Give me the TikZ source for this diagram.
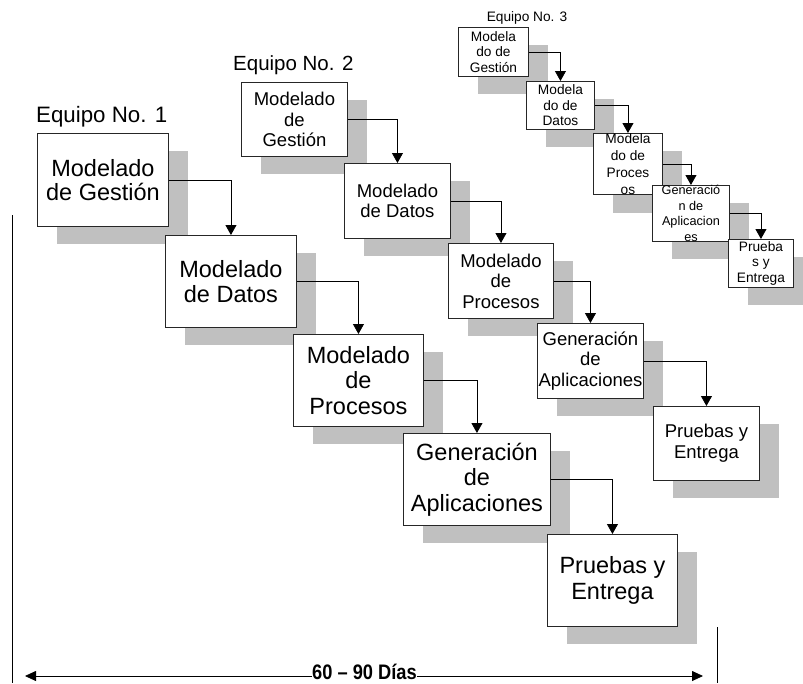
\documentclass[tikz,border=0pt]{standalone}
\usepackage{fontspec}
\setmainfont{Liberation Sans}
\usetikzlibrary{arrows.meta,shadows}
\definecolor{shadowgray}{RGB}{192,192,192}
\begin{document}
\begin{tikzpicture}[x=1pt,y=-1pt,
  box/.style={draw=black!85, line width=0.9pt, fill=white, align=center, inner sep=0pt,
    anchor=north west,
    drop shadow={shadow xshift=20pt, shadow yshift=-18pt, fill=shadowgray, draw=none, opacity=1}},
  tA/.style={font=\fontsize{23.5}{25.5}\selectfont},
  tB/.style={font=\fontsize{18.5}{20.5}\selectfont},
  tC/.style={font=\fontsize{13.7}{15.5}\selectfont},
  lbl/.style={inner sep=0pt},
  conn/.style={line width=0.8pt, -{Triangle[length=10pt,width=11pt]}},
  dim/.style={line width=0.8pt},
  dimtip/.style={line width=0.8pt, -{Triangle[length=11pt,width=10pt]}}]
\useasboundingbox (0,0) rectangle (803,683);

% Team 1
\node[lbl, anchor=west, font=\fontsize{22.3}{24}\selectfont] (L1) at (36,117) {Equipo No. 1};
\node[box, minimum width=131pt, minimum height=93pt, font=\fontsize{23.5}{23.5}\selectfont] (a1) at (37,133) {Modelado\\de Gestión};
\node[box, tA, minimum width=131pt, minimum height=92pt] (a2) at (165,235) {Modelado\\de Datos};
\node[box, tA, minimum width=130pt, minimum height=92pt] (a3) at (293,334) {Modelado\\de\\Procesos};
\node[box, tA, minimum width=147pt, minimum height=92pt] (a4) at (403,433) {Generación\\de\\Aplicaciones};
\node[box, tA, minimum width=130pt, minimum height=92pt] (a5) at (547,534) {Pruebas y\\Entrega};

% Team 2
\node[lbl, anchor=west, font=\fontsize{20.5}{22}\selectfont] (L2) at (233,65) {Equipo No. 2};
\node[box, tB, minimum width=106pt, minimum height=74pt] (b1) at (241,82) {Modelado\\de\\Gestión};
\node[box, tB, minimum width=106pt, minimum height=75pt] (b2) at (344,163) {Modelado\\de Datos};
\node[box, tB, minimum width=105pt, minimum height=75pt] (b3) at (448,243) {Modelado\\de\\Procesos};
\node[box, tB, minimum width=106pt, minimum height=75pt] (b4) at (537,323) {Generación\\de\\Aplicaciones};
\node[box, tB, minimum width=106pt, minimum height=74pt] (b5) at (653,406) {Pruebas y\\Entrega};

% Team 3
\node[lbl, font=\fontsize{13.7}{15}\selectfont] (L3) at (527,18) {Equipo No. 3};
\node[box, tC, minimum width=70pt, minimum height=49pt] (c1) at (458,27) {Modela\\do de\\Gestión};
\node[box, tC, minimum width=68pt, minimum height=48pt] (c2) at (526,81) {Modela\\do de\\Datos};
\node[box, minimum width=69pt, minimum height=49pt, font=\fontsize{13.7}{17}\selectfont] (c3) at (593,133) {Modela\\do de\\Proces\\os};
\node[box, minimum width=77pt, minimum height=48pt, font=\fontsize{12.7}{15.5}\selectfont] (c4) at (652,185) {Generació\\n de\\Aplicacion\\es};
\node[box, tC, minimum width=65pt, minimum height=48pt] (c5) at (728,239) {Prueba\\s y\\Entrega};

% Connectors
\draw[conn] (a1.east) -| (a2.north);
\draw[conn] (a2.east) -| (a3.north);
\draw[conn] (a3.east) -| (a4.north);
\draw[conn] (a4.east) -| (a5.north);
\draw[conn] (b1.east) -| (b2.north);
\draw[conn] (b2.east) -| (b3.north);
\draw[conn] (b3.east) -| (b4.north);
\draw[conn] (b4.east) -| (b5.north);
\draw[conn] (c1.east) -| (c2.north);
\draw[conn] (c2.east) -| (c3.north);
\draw[conn] (c3.east) -| (c4.north);
\draw[conn] (c4.east) -| (c5.north);

% Time span
\coordinate (vl1) at (12,215);
\coordinate (vl2) at (12,683);
\coordinate (vr1) at (717,627);
\coordinate (vr2) at (717,683);
\draw[dim] (vl1) -- (vl2);
\draw[dim] (vr1) -- (vr2);
\coordinate (AL) at (25,676);
\coordinate (AR) at (703,676);
\node[inner sep=0pt, font=\bfseries\fontsize{21}{22}\selectfont] (T) at (364.5,672) {\scalebox{0.87}[1]{60 – 90 Días}};
\draw[dimtip] (T.west |- AL) -- (AL);
\draw[dimtip] (T.east |- AR) -- (AR);
\end{tikzpicture}
\end{document}
